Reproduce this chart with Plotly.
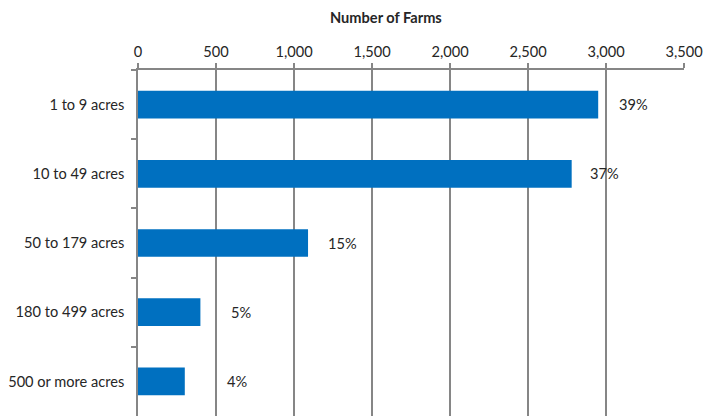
import plotly.graph_objects as go

categories = ["1 to 9 acres", "10 to 49 acres", "50 to 179 acres", "180 to 499 acres", "500 or more acres"]
farms = [2950, 2780, 1090, 400, 300]
pct_labels = ["39%", "37%", "15%", "5%", "4%"]
label_shift = [19, 16, 18, 29, 40]
x_ticks = [0, 500, 1000, 1500, 2000, 2500, 3000, 3500]
x_tick_text = ["0", "500", "1,000", "1,500", "2,000", "2,500", "3,000", "3,500"]

FONT = "Lato, Open Sans, sans-serif"
FS = 14.6
TXT = "#262626"
GRID = "#868686"

fig = go.Figure(go.Bar(
    x=farms, y=categories, orientation="h",
    marker=dict(color="#0070C0", line=dict(width=0)),
    width=0.4,
))

for v, c, t, s in zip(farms, categories, pct_labels, label_shift):
    fig.add_annotation(x=v, y=c, text=t, showarrow=False, xanchor="left",
                       xshift=s, font=dict(family=FONT, size=FS, color=TXT))

fig.add_annotation(x=0.454, y=1.153, xref="paper", yref="paper",
                   xanchor="center", yanchor="middle",
                   text="<b>Number of Farms</b>", showarrow=False,
                   font=dict(family=FONT, size=FS, color=TXT))

fig.update_layout(
    width=715, height=417,
    margin=dict(l=138, r=31, t=70, b=1),
    plot_bgcolor="white", paper_bgcolor="white",
    showlegend=False,
    font=dict(family=FONT, size=FS, color=TXT),
    xaxis=dict(
        side="top", range=[0, 3500],
        tickvals=x_ticks, ticktext=x_tick_text,
        showgrid=True, gridcolor=GRID, gridwidth=1.5,
        showline=True, linecolor=GRID, linewidth=1.5,
        ticks="outside", ticklen=5, tickcolor=GRID, tickwidth=1.5,
        zeroline=False,
    ),
    yaxis=dict(
        type="category", autorange="reversed",
        categoryorder="array", categoryarray=categories,
        tickson="boundaries", ticks="outside", ticklen=5, tickcolor=GRID, tickwidth=1.5,
        showline=True, linecolor=GRID, linewidth=1.5,
        showgrid=False, zeroline=False,
        ticklabelstandoff=9,
    ),
)

fig.write_html("out.html")
